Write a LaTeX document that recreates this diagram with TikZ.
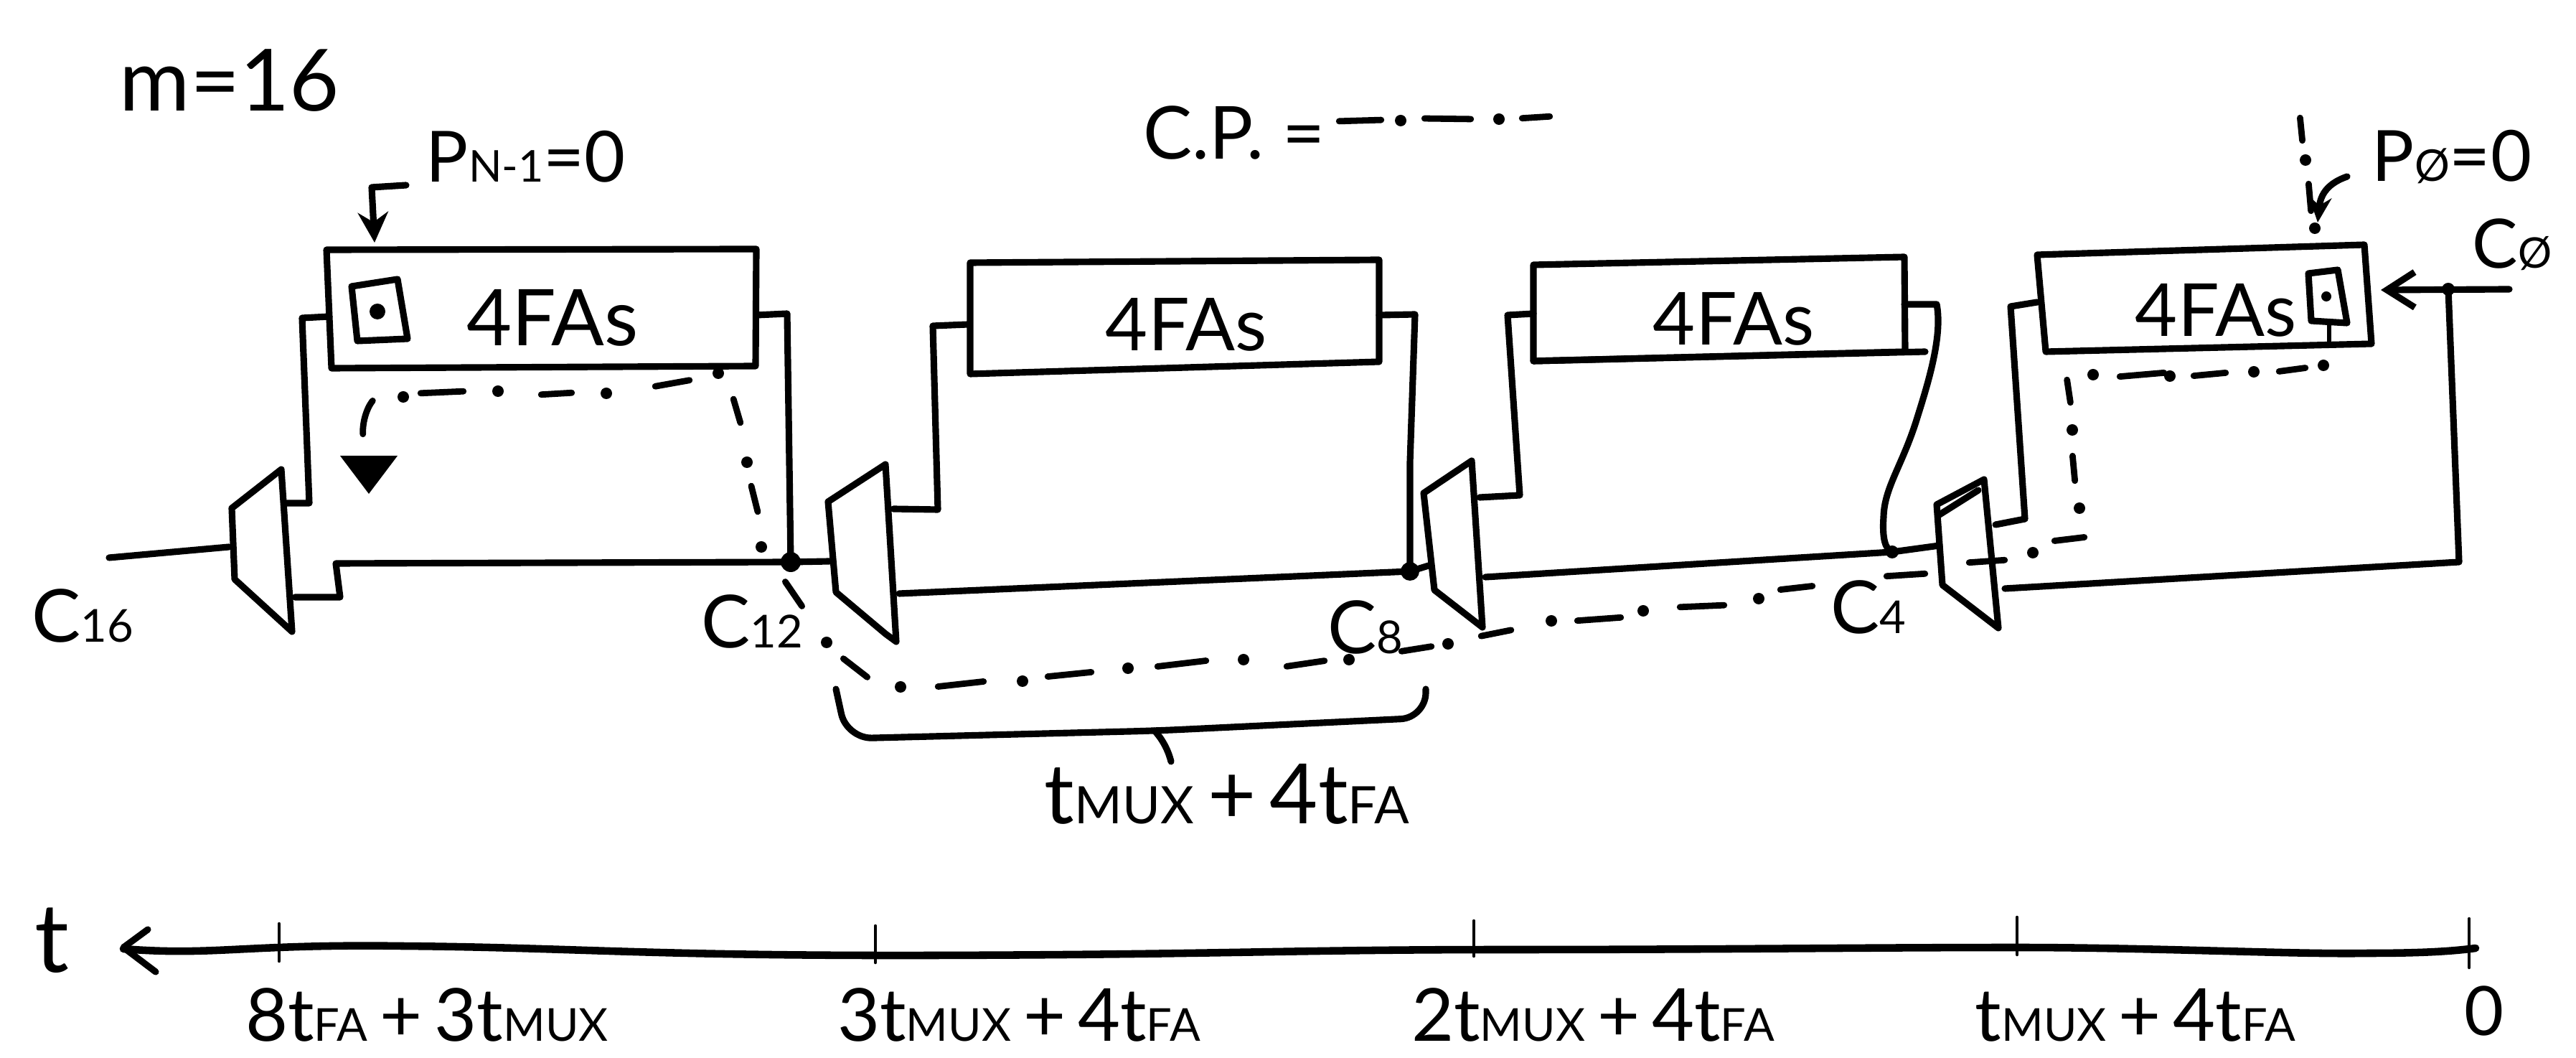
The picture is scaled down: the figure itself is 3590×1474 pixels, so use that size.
\documentclass[tikz,border=0pt]{standalone}
\usepackage{fontspec}
\usepackage{graphicx}
\setmainfont{Lato}
\usetikzlibrary{arrows.meta}
\newcommand{\lo}[1]{\scalebox{.62}{#1}}
\newcommand{\fs}[1]{\fontsize{#1}{#1}\selectfont}
\tikzset{
  ink/.style={line width=2.6pt,line cap=round,line join=round},
  thin ink/.style={line width=1.8pt,line cap=round,line join=round},
  cp/.style={line width=2.5pt,line cap=round,shorten >=1.2pt,shorten <=1.2pt},
  hand/.style={inner sep=0pt,font=\fs{#1}},
  hand/.default=30pt,
  tick/.style={line width=1.3pt,line cap=round}
}
\begin{document}
\begin{tikzpicture}[x=0.01cm,y=-0.01cm]
\useasboundingbox (0,0) rectangle (3590,1474);
% corners
\coordinate (b1a) at (455,348); \coordinate (b1b) at (1054,347); \coordinate (b1c) at (1053,510); \coordinate (b1d) at (462,513);
\coordinate (b2a) at (1352,366); \coordinate (b2b) at (1922,362); \coordinate (b2c) at (1922,504); \coordinate (b2d) at (1352,521);
\coordinate (b3a) at (2137,369); \coordinate (b3b) at (2654,358); \coordinate (b3c) at (2655,490); \coordinate (b3d) at (2137,503);
\coordinate (b4a) at (2839,355); \coordinate (b4b) at (3295,341); \coordinate (b4c) at (3305,479); \coordinate (b4d) at (2851,490);
\draw[ink] (b1a)--(b1b)--(b1c)--(b1d)--cycle;
\draw[ink] (b2a)--(b2b)--(b2c)--(b2d)--cycle;
\draw[ink] (b3a)--(b3b)--(b3c)--(b3d)--cycle;
\draw[ink] (b3d)--(2683,490);
\draw[ink] (b4a)--(b4b)--(b4c)--(b4d)--cycle;
\node[hand=31pt] (t1) at (770,443) {4FAs};
\node[hand=29pt] (t2) at (1653,452) {4FAs};
\node[hand=29pt] (t3) at (2416,444) {4FAs};
\node[hand=29pt] (t4) at (3088,432) {4FAs};
% inner rectangles
\draw[ink] (490,399)--(554,389)--(568,472)--(498,475)--cycle;
\fill (526,434) circle[radius=11];
\draw[ink] (3217,381)--(3258,376)--(3271,450)--(3221,447)--cycle;
\fill (3242,413) circle[radius=7];
\draw[thin ink] (3246,450)--(3246,476);
% muxes
\draw[ink] (323,708)--(392,654)--(407,880)--(327,807)--cycle;
\draw[ink] (1154,699)--(1234,647)--(1249,894)--(1234,883)--(1165,825)--cycle;
\draw[ink] (1984,687)--(2051,642)--(2066,874)--(1999,822)--cycle;
\draw[ink] (2699,703)--(2765,668)--(2785,875)--(2707,815)--cycle;
\draw[ink] (2703,717)--(2757,683);
% wires
\coordinate (n12) at (1102,783); \coordinate (n8) at (1965,796); \coordinate (n4) at (2637,769); \coordinate (n0) at (3412,403);
\draw[ink] (152,777)--(319,762);
\draw[ink] (459,441)--(421,443)--(431,701)--(399,701);
\draw[ink] (1054,439)--(1097,437)--(n12);
\draw[ink] (n12)--(1156,782);
\draw[ink] (n12)--(468,785)--(474,832)--(411,832);
\fill (n12) circle[radius=14];
\draw[ink] (1349,452)--(1300,454)--(1307,710)--(1245,709);
\draw[ink] (1922,439)--(1972,438)--(1965,644)--(n8);
\draw[ink] (1253,827)--(n8)--(1991,788);
\fill (n8) circle[radius=13];
\draw[ink] (2137,437)--(2101,439)--(2118,690)--(2062,693);
\draw[ink] (2070,804)--(n4)--(2703,760);
\draw[ink] (2654,424)--(2699,424) .. controls (2708,470) and (2685,540) .. (2670,588) .. controls (2650,650) and (2626,680) .. (2625,720) .. controls (2623,750) and (2627,765) .. (n4);
\fill (n4) circle[radius=9];
\draw[ink] (2781,731)--(2822,723)--(2802,427)--(2839,421);
\draw[ink,-{Straight Barb[length=11pt,width=14pt]}] (3497,403)--(3318,404);
\draw[ink] (n0)--(3427,783)--(2794,820);
\fill (n0) circle[radius=9];
% P arrows
\draw[ink,-{Stealth[length=12pt,width=12pt]}] (566,258)--(518,261)--(522,338);
\draw[ink,-{Stealth[length=10pt,width=9pt]}] (3271,246) .. controls (3245,255) and (3234,270) .. (3230,310);
% critical path: dashes
\foreach \a/\b/\c/\d in {
 909/539/965/529, 750/550/801/547, 582/548/650/545,
 1021/552/1033/593, 1046/673/1057/717,
 1092/807/1120/848, 1172/915/1212/946,
 1303/957/1375/949, 1456/943/1525/936, 1609/929/1685/920, 1789/929/1850/920,
 1949/908/1999/900, 2060/887/2110/877, 2194/865/2263/860,
 2337/846/2407/843, 2477/822/2530/816, 2625/803/2687/799, 2740/784/2798/780,
 2859/754/2909/748, 2892/674/2888/631, 2886/565/2880/525,
 2950/525/3020/519, 3053/524/3106/519, 3172/518/3217/512,
 3205/160/3209/200, 3217/252/3221/298,
 1862/169/1929/167, 1981/165/2054/166, 2117/165/2164/162}
  \draw[cp] (\a,\b)--(\c,\d);
\draw[cp] (522,555) .. controls (510,570) and (505,590) .. (506,609);
\foreach \a/\b in {
 1001/520, 845/548, 694/545, 562/553, 1041/644, 1061/762, 1152/895,
 1255/957, 1425/949, 1572/931, 1733/919, 1880/919, 2018/897, 2162/865, 2290/851,
 2451/834, 2833/770, 2898/708, 2888/599, 2917/522, 3024/524, 3141/518, 3238/509,
 3213/223, 3226/318, 1952/168, 2089/166}
  \fill (\a,\b) circle[radius=8];
\fill (474,635)--(554,635)--(514,688)--cycle;
% brace
\draw[ink,rounded corners=10pt] (1165,960)--(1180,1029)--(1613,1018)--(1987,1000)--(1987,960);
\draw[ink] (1609,1018) .. controls (1620,1030) and (1628,1045) .. (1632,1061);
% axis
\draw[ink,line width=3pt] (172,1322) .. controls (300,1332) and (340,1315) .. (560,1318) .. controls (800,1320) and (900,1332) .. (1300,1331) .. controls (1700,1330) and (1800,1323) .. (2100,1323) .. controls (2400,1323) and (2600,1320) .. (2811,1320) .. controls (3000,1320) and (3200,1330) .. (3300,1328) .. controls (3380,1328) and (3420,1325) .. (3450,1321);
\draw[ink] (206,1295)--(172,1320)--(217,1354);
\foreach \x/\p/\q in {389/1287/1339,1220/1290/1341,2054/1283/1332,2811/1278/1330,3441/1280/1348}
  \draw[tick] (\x,\p)--(\x,\q);
% texts
\node[hand=34pt] (m) at (320,112) {m=16};
\node[hand=28pt] (pn) at (733,218) {P\lo{N-1}=0};
\node[hand=29pt] (cpl) at (1720,185) {C.P. =};
\node[hand=28pt] (p0) at (3417,219) {P\lo{Ø}=0};
\node[hand=27pt] (c0) at (3501,341) {C\lo{Ø}};
\node[hand=29pt] (c16) at (115,858) {C\lo{16}};
\node[hand=29pt] (c12) at (1048,866) {C\lo{12}};
\node[hand=29pt] (c8) at (1903,874) {C\lo{8}};
\node[hand=29pt] (c4) at (2604,846) {C\lo{4}};
\node[hand=33pt] (dl) at (1710,1106) {t\lo{MUX}\,+\,4t\lo{FA}};
\node[hand=38pt] (tl) at (72,1310) {t};
\node[hand=29pt] (l1) at (595,1414) {8t\lo{FA}\,+\,3t\lo{MUX}};
\node[hand=29pt] (l2) at (1420,1414) {3t\lo{MUX}\,+\,4t\lo{FA}};
\node[hand=29pt] (l3) at (2220,1414) {2t\lo{MUX}\,+\,4t\lo{FA}};
\node[hand=29pt] (l4) at (2976,1414) {t\lo{MUX}\,+\,4t\lo{FA}};
\node[hand=27pt] (l0) at (3462,1408) {0};
\end{tikzpicture}
\end{document}
